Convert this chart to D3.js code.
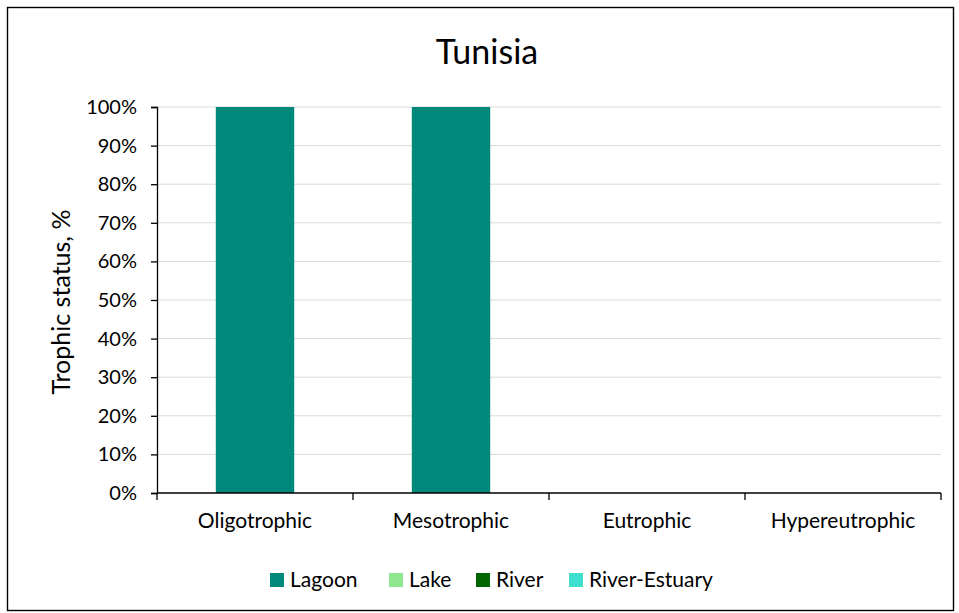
<!DOCTYPE html>
<html>
<head>
<meta charset="utf-8">
<script src="https://cdn.jsdelivr.net/npm/d3@7"></script>
<style>
  html, body { margin: 0; padding: 0; background: #fff; }
  svg { display: block; font-family: Lato, "Open Sans", sans-serif; }
</style>
</head>
<body>
<svg id="chart" width="959" height="613"></svg>
<script>
// Trophic status categories and water-body series (share, %)
const categories = ["Oligotrophic", "Mesotrophic", "Eutrophic", "Hypereutrophic"];
const seriesNames = ["Lagoon", "Lake", "River", "River-Estuary"];
const lagoon = [100, 100, 0, 0];
const lake = [0, 0, 0, 0];
const river = [0, 0, 0, 0];
const riverEstuary = [0, 0, 0, 0];
const seriesColors = ["#00897b", "#90e68f", "#006400", "#40e0d0"];
const yTicks = [0, 10, 20, 30, 40, 50, 60, 70, 80, 90, 100];

const rows = categories.map((c, i) => ({
  category: c,
  "Lagoon": lagoon[i],
  "Lake": lake[i],
  "River": river[i],
  "River-Estuary": riverEstuary[i]
}));

const svg = d3.select("#chart");
const W = 959, H = 613;
const m = { left: 157, right: 18, top: 107, bottom: 120 };

// outer frame
svg.append("rect")
  .attr("x", 7.5).attr("y", 7.5)
  .attr("width", W - 13).attr("height", H - 10)
  .attr("fill", "#fff").attr("stroke", "#000").attr("stroke-width", 1.4);

const x = d3.scaleBand().domain(categories).range([m.left, W - m.right]).paddingInner(0.6).paddingOuter(0.3);
const xAxisScale = d3.scaleBand().domain(categories).range([m.left, W - m.right]);
const y = d3.scaleLinear().domain([0, 100]).range([H - m.bottom, m.top]);

// grid
svg.append("g").selectAll("line").data(yTicks.filter(t => t > 0)).join("line")
  .attr("x1", m.left).attr("x2", W - m.right)
  .attr("y1", d => y(d)).attr("y2", d => y(d))
  .attr("stroke", "#d9d9d9").attr("stroke-width", 1);

// stacked bars
const stack = d3.stack().keys(seriesNames)(rows);
svg.append("g").selectAll("g").data(stack).join("g")
  .attr("fill", (d, i) => seriesColors[i])
  .selectAll("rect").data(d => d).join("rect")
  .attr("x", d => x(d.data.category))
  .attr("width", x.bandwidth())
  .attr("y", d => y(d[1]))
  .attr("height", d => y(d[0]) - y(d[1]));

// y axis
const yAxis = svg.append("g").attr("transform", `translate(${m.left},0)`)
  .call(d3.axisLeft(y).tickValues(yTicks).tickFormat(d => d + "%").tickSize(6).tickPadding(14));
yAxis.select(".domain").attr("stroke", "#000").attr("stroke-width", 1.3);
yAxis.selectAll(".tick line").attr("stroke", "#000").attr("stroke-width", 1.3);
yAxis.selectAll("text").attr("font-size", 20).attr("fill", "#000")
  .attr("font-family", "Lato, 'Open Sans', sans-serif");

// x axis with ticks at band boundaries
const xg = svg.append("g").attr("transform", `translate(0,${y(0)})`);
xg.append("line").attr("x1", m.left).attr("x2", W - m.right)
  .attr("stroke", "#000").attr("stroke-width", 1.3);
const bounds = categories.map(c => xAxisScale(c)).concat([W - m.right]);
xg.selectAll(".bt").data(bounds).join("line")
  .attr("x1", d => d).attr("x2", d => d).attr("y1", 0).attr("y2", 7)
  .attr("stroke", "#000").attr("stroke-width", 1.3);
xg.selectAll("text").data(categories).join("text")
  .attr("x", d => xAxisScale(d) + xAxisScale.bandwidth() / 2)
  .attr("y", 35)
  .attr("text-anchor", "middle")
  .attr("font-size", 21).attr("fill", "#000")
  .text(d => d);

// title
svg.append("text").attr("x", 487).attr("y", 64)
  .attr("text-anchor", "middle").attr("font-size", 34).attr("fill", "#000")
  .text("Tunisia");

// y-axis title
svg.append("text")
  .attr("transform", `translate(70,${(y(0) + y(100)) / 2 + 2}) rotate(-90)`)
  .attr("text-anchor", "middle").attr("font-size", 25).attr("fill", "#000")
  .text("Trophic status, %");

// legend
const legendX = [270, 389, 476, 569];
const lg = svg.append("g").selectAll("g").data(seriesNames).join("g")
  .attr("transform", (d, i) => `translate(${legendX[i]},573)`);
lg.append("rect").attr("width", 14).attr("height", 14).attr("fill", (d, i) => seriesColors[i]);
lg.append("text").attr("x", 20).attr("y", 14).attr("font-size", 21).attr("fill", "#000").text(d => d);
</script>
</body>
</html>
